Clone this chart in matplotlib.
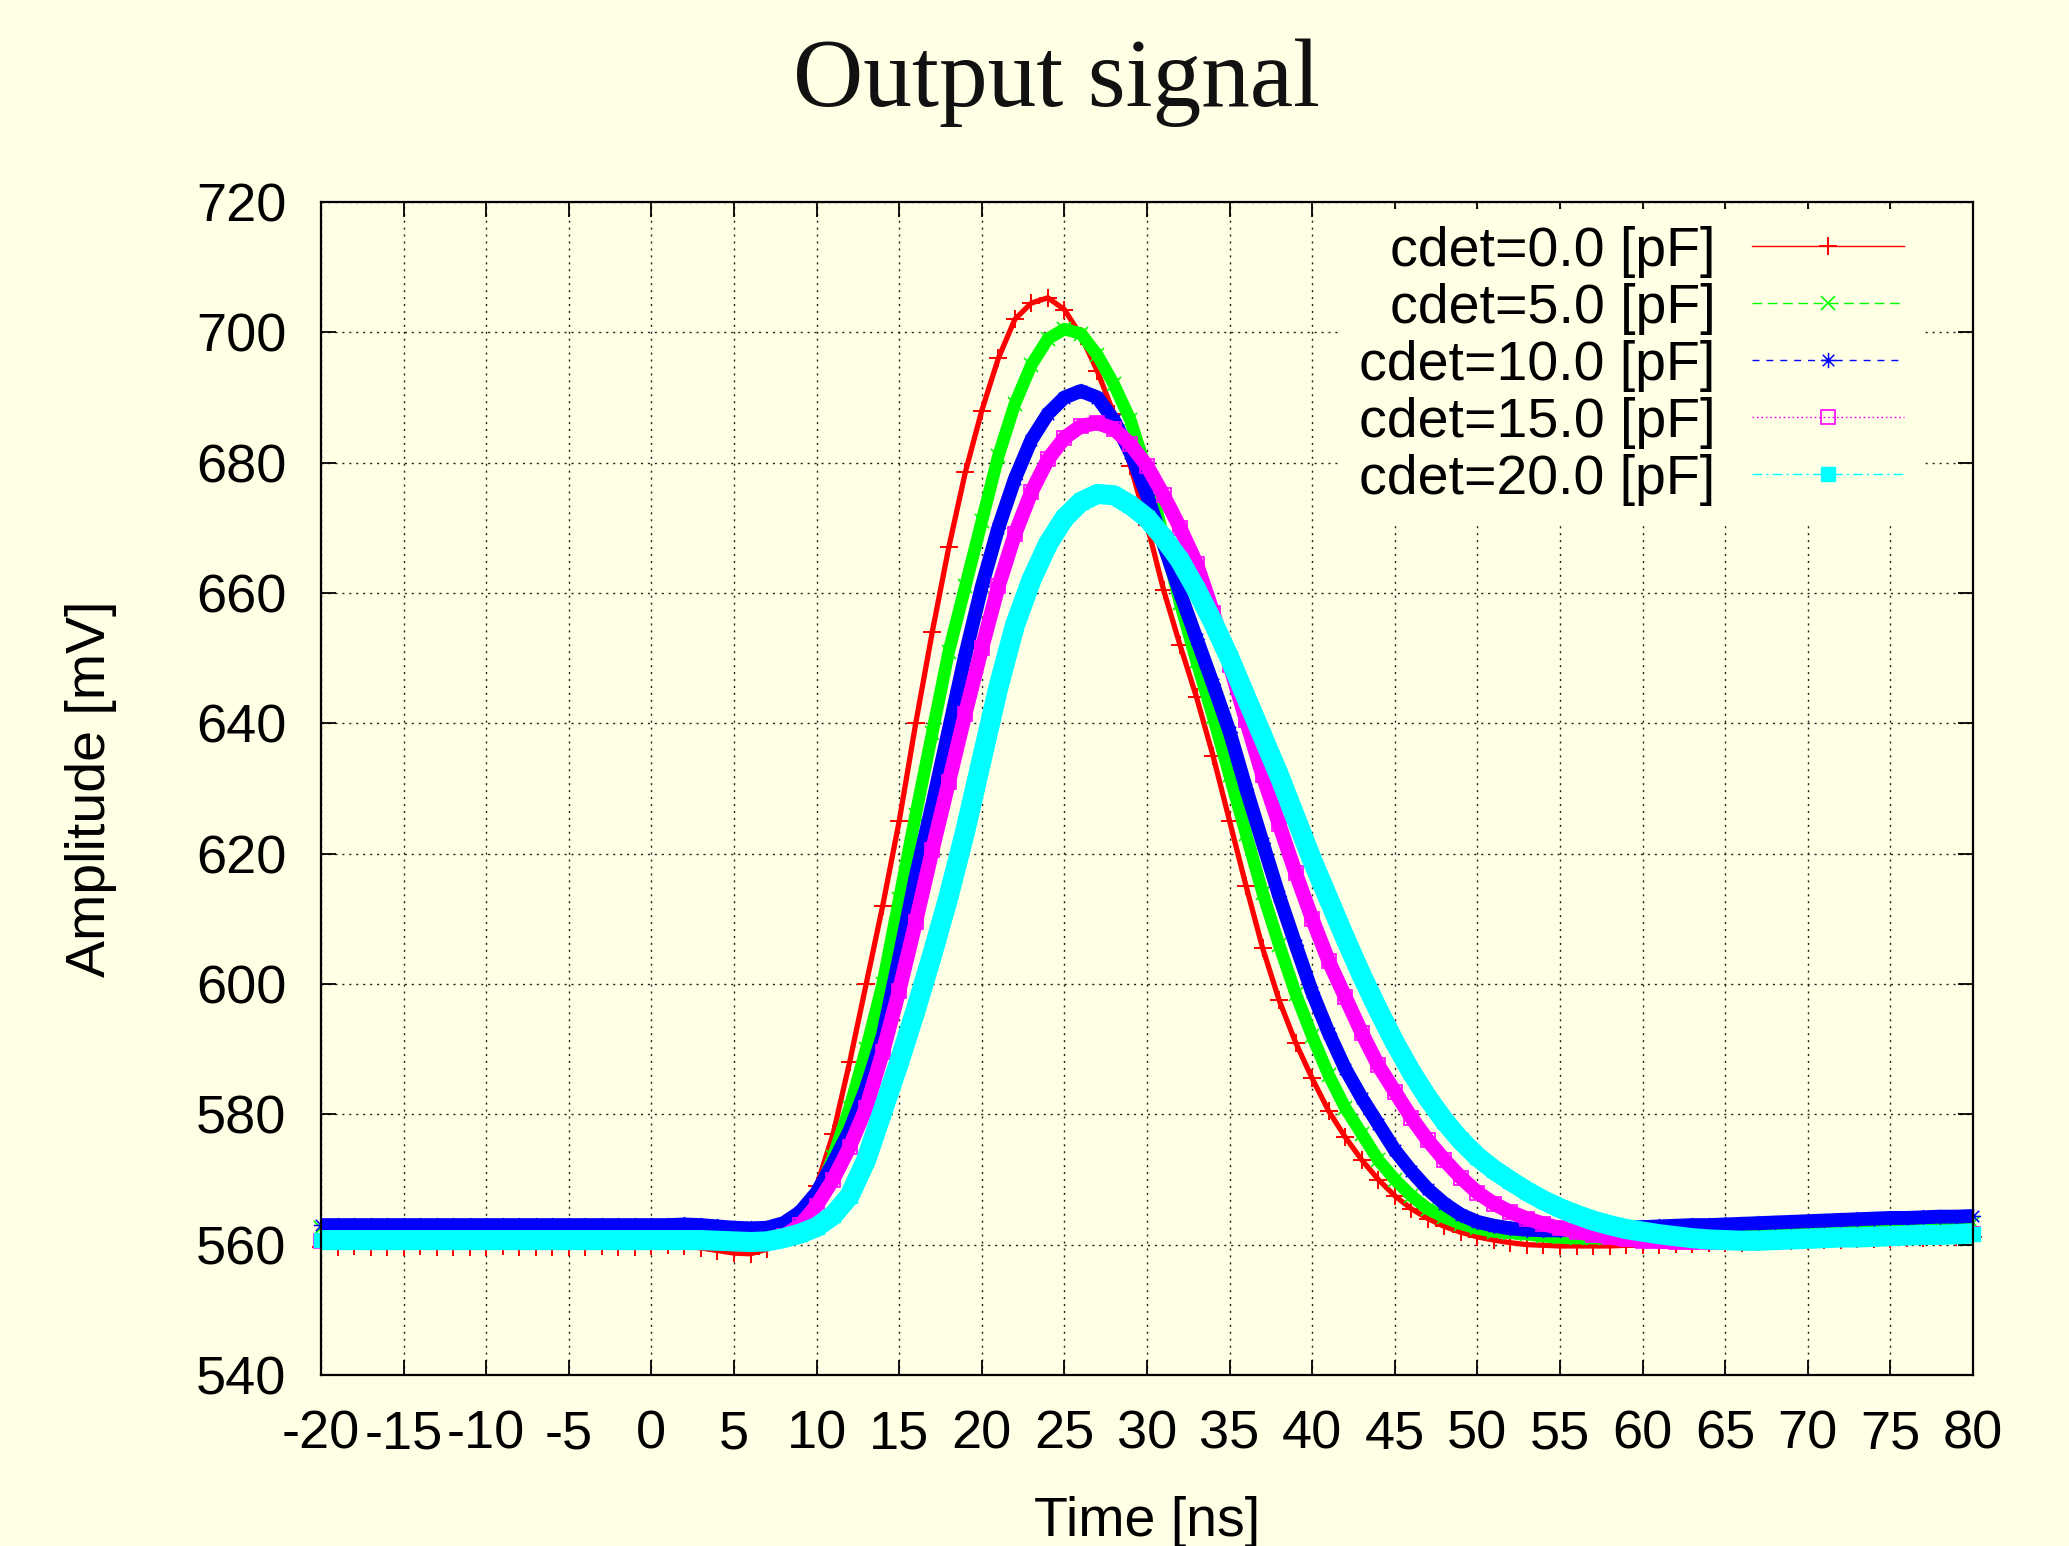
import numpy as np
import matplotlib
matplotlib.use("Agg")
import matplotlib.pyplot as plt
from matplotlib.lines import Line2D
from matplotlib.path import Path

# ---------------- data ----------------
time_ns = list(range(-20, 81))

cdet_labels = ["cdet=0.0 [pF]", "cdet=5.0 [pF]", "cdet=10.0 [pF]",
               "cdet=15.0 [pF]", "cdet=20.0 [pF]"]

amp_c0 = ([559.7, 559.7, 559.8, 559.7, 559.7, 559.7, 559.8, 559.7, 559.7, 559.7,
           559.7, 559.8, 559.7, 559.7, 559.7, 559.7, 559.7, 559.8, 559.7, 559.7,
           559.8, 559.9, 559.8]                                   # -20..2
          + [559.5, 559.1, 558.7, 558.6, 559.3, 561.0, 564.0, 569.0, 577.0, 588.0,  # 3..12
             600.0, 612.0, 625.0, 640.0, 654.0, 667.0, 678.5, 688.0, 696.0, 702.0,  # 13..22
             704.5, 705.3, 703.5, 699.5, 694.0, 687.5, 679.5, 670.5, 660.5, 652.0,  # 23..32
             644.0, 635.0, 625.0, 615.0, 605.5, 597.5, 591.0, 585.5, 580.5, 576.5,  # 33..42
             573.0, 570.0, 567.5, 565.5, 564.0, 562.8, 561.9, 561.2, 560.7, 560.3,  # 43..52
             560.0, 559.9, 559.8, 559.8, 559.8, 559.8, 559.9, 559.9,                # 53..60
             560.0, 560.1, 560.1, 560.2, 560.3, 560.3, 560.4, 560.5, 560.5, 560.6,  # 61..70
             560.7, 560.7, 560.8, 560.9, 560.9, 561.0, 561.0, 561.1, 561.1, 561.2]) # 71..80

amp_c5 = ([562.5] * 24                                            # -20..3
          + [562.3, 562.0, 561.8, 561.9, 562.3, 563.5, 567.0, 573.5, 581.0,     # 4..12
             590.0, 600.0, 613.0, 626.0, 638.5, 651.0, 661.0, 671.0, 681.0, 689.0,  # 13..22
             695.0, 699.0, 700.5, 699.8, 696.5, 692.0, 686.5, 678.5, 668.5, 658.5,  # 23..32
             649.5, 641.0, 632.0, 623.0, 614.0, 606.0, 598.5, 592.0, 586.0, 581.0,  # 33..42
             577.0, 573.0, 570.0, 567.5, 565.5, 564.2, 563.2, 562.5, 562.0, 561.8,  # 43..52
             561.6, 561.3, 561.1, 561.0, 561.0, 561.0, 561.1, 561.2,                # 53..60
             561.3, 561.4, 561.5, 561.6, 561.7, 561.8, 561.9, 562.0, 562.1, 562.2,  # 61..70
             562.3, 562.4, 562.5, 562.6, 562.7, 562.8, 562.9, 563.0, 563.2, 563.3]) # 71..80

amp_c10 = ([563.0] * 22 + [563.1]                                 # -20..2
           + [563.0, 562.8, 562.6, 562.5, 562.6, 563.3, 565.0, 568.0, 572.5, 577.5,  # 3..12
              584.0, 592.0, 604.0, 616.5, 627.5, 639.0, 650.5, 661.0, 670.0, 677.5,  # 13..22
              683.5, 687.5, 690.0, 691.0, 690.0, 686.5, 681.5, 675.0, 667.5, 660.0,  # 23..32
              653.0, 646.0, 638.7, 630.0, 621.7, 613.5, 606.0, 598.7, 592.5, 587.0,  # 33..42
              582.5, 578.5, 574.5, 571.3, 568.5, 566.3, 564.6, 563.5, 562.9, 562.5,  # 43..52
              562.3, 562.2, 562.2, 562.3, 562.4, 562.5, 562.6, 562.7,                # 53..60
              562.8, 562.9, 563.0, 563.0, 563.1, 563.2, 563.3, 563.4, 563.5, 563.6,  # 61..70
              563.7, 563.8, 563.9, 564.0, 564.1, 564.1, 564.2, 564.3, 564.3, 564.4]) # 71..80

amp_c15 = ([560.6] * 24                                           # -20..3
           + [560.5, 560.3, 560.2, 560.4, 561.3, 563.0, 566.0, 570.0, 575.0,     # 4..12
              581.0, 589.5, 599.0, 609.5, 620.5, 631.0, 641.5, 651.5, 661.0, 669.0,  # 13..22
              675.5, 680.5, 683.8, 685.6, 686.1, 685.2, 682.8, 679.5, 675.0, 670.0,  # 23..32
              664.5, 657.0, 649.0, 640.5, 632.0, 624.5, 617.0, 610.0, 603.5, 598.0,  # 33..42
              592.5, 587.5, 583.5, 579.5, 576.0, 573.0, 570.3, 568.0, 566.3, 565.0,  # 43..52
              564.0, 563.2, 562.5, 562.0, 561.5, 561.1, 560.8, 560.6,                # 53..60
              560.5, 560.4, 560.4, 560.4, 560.4, 560.5, 560.5, 560.6, 560.7, 560.8,  # 61..70
              560.9, 561.0, 561.0, 561.1, 561.2, 561.3, 561.4, 561.4, 561.5, 561.6]) # 71..80

amp_c20 = ([560.7] * 24                                           # -20..3
           + [560.6, 560.5, 560.4, 560.5, 561.0, 561.7, 562.7, 564.5, 567.5,     # 4..12
              573.0, 580.5, 588.0, 596.0, 604.5, 613.5, 623.5, 634.5, 645.5, 655.0,  # 13..22
              662.0, 667.5, 671.5, 674.0, 675.2, 675.0, 673.5, 671.5, 668.5, 665.0,  # 23..32
              660.5, 655.5, 650.0, 644.0, 638.0, 632.0, 625.5, 619.0, 613.0, 607.0,  # 33..42
              601.3, 596.0, 591.0, 586.5, 582.5, 579.0, 576.0, 573.5, 571.5, 569.8,  # 43..52
              568.2, 566.8, 565.6, 564.6, 563.7, 563.0, 562.4, 562.0,                # 53..60
              561.6, 561.3, 561.0, 560.8, 560.7, 560.6, 560.6, 560.7, 560.8, 560.9,  # 61..70
              561.0, 561.1, 561.1, 561.2, 561.3, 561.4, 561.5, 561.5, 561.6, 561.7]) # 71..80

series = [amp_c0, amp_c5, amp_c10, amp_c15, amp_c20]

x_ticks = list(range(-20, 81, 5))
y_ticks = list(range(540, 721, 20))

# ---------------- style ----------------
BG = "#FFFFE5"
colors = ["#FF0000", "#00FF00", "#0000FF", "#FF00FF", "#00FFFF"]

ast_path = Path([(-1, 0), (1, 0), (0, -1), (0, 1),
                 (-0.75, -0.75), (0.75, 0.75), (-0.75, 0.75), (0.75, -0.75)],
                [Path.MOVETO, Path.LINETO] * 4)

markers = ["+", "x", ast_path, "s", "s"]
m_size = [13, 10.5, 11, 9.5, 9.5]
m_face = ["none", "none", "none", "none", colors[4]]
m_edge_w = [1.4, 1.2, 1.1, 1.2, 1.0]
band_w = [3.8, 9.0, 10.0, 10.5, 14.5]
leg_ls = ["-", (0, (7, 4)), (0, (5, 5)), (0, (1.2, 2)), (0, (7, 3, 1.5, 3))]

plt.rcParams["font.family"] = ["Liberation Sans", "DejaVu Sans"]

fig = plt.figure(figsize=(20.69, 15.46), dpi=100, facecolor=BG)
ax = fig.add_axes([321 / 2069, 1 - 1375 / 1546, (1973 - 321) / 2069, (1375 - 202) / 1546])
ax.set_facecolor(BG)

t = np.array(time_ns, dtype=float)
for i, amp in enumerate(series):
    y = np.array(amp, dtype=float)
    ax.plot(t, y, color=colors[i], lw=band_w[i], solid_capstyle="butt",
            solid_joinstyle="round", zorder=2 + i * 0.1)
    ax.plot(t, y, linestyle="none", marker=markers[i], ms=m_size[i],
            mfc=m_face[i], mec=colors[i], mew=m_edge_w[i],
            zorder=2.05 + i * 0.1, clip_on=False)

ax.set_xlim(-20, 80)
ax.set_ylim(540, 720)
ax.set_xticks(x_ticks)
ax.set_xticklabels([str(v) for v in x_ticks])
ax.set_yticks(y_ticks)
ax.set_yticklabels([str(v) for v in y_ticks])

ax.grid(True, color="#222222", linestyle=(0, (1.5, 3.5)), lw=1.0)
ax.set_axisbelow(True)

for s in ax.spines.values():
    s.set_linewidth(1.6)
    s.set_color("black")
    s.set_zorder(10)

ax.tick_params(axis="both", which="major", direction="in", length=11, width=1.3,
               top=True, right=True, labelsize=39, colors="black")
ax.tick_params(axis="x", pad=25)
ax.tick_params(axis="y", pad=25)

ax.set_xlabel("Time [ns]", fontsize=40, labelpad=26)
ax.set_ylabel("Amplitude [mV]", fontsize=40, labelpad=57)

fig.text(1057 / 2069, 1 - 106 / 1546, "Output signal", ha="center", va="baseline",
         fontsize=70, family=["Liberation Serif", "DejaVu Serif"], color="#111111")

handles = []
for i in range(5):
    handles.append(Line2D([], [], color=colors[i], lw=1.0, linestyle=leg_ls[i],
                          marker=markers[i], ms=m_size[i], mfc=m_face[i],
                          mec=colors[i], mew=m_edge_w[i]))

# with markerfirst=False the rows are right-aligned, so the texts line up on the right
leg = ax.legend(handles, cdet_labels, loc="upper right",
                bbox_to_anchor=(0.9685, 0.994), borderaxespad=0,
                markerfirst=False, numpoints=1, handlelength=2.74,
                handletextpad=0.66, labelspacing=0.09, fontsize=40,
                frameon=True, facecolor=BG, edgecolor="none", framealpha=1,
                borderpad=0.3, fancybox=False)
leg.set_zorder(20)

fig.savefig("out.png", dpi=100, facecolor=BG)
